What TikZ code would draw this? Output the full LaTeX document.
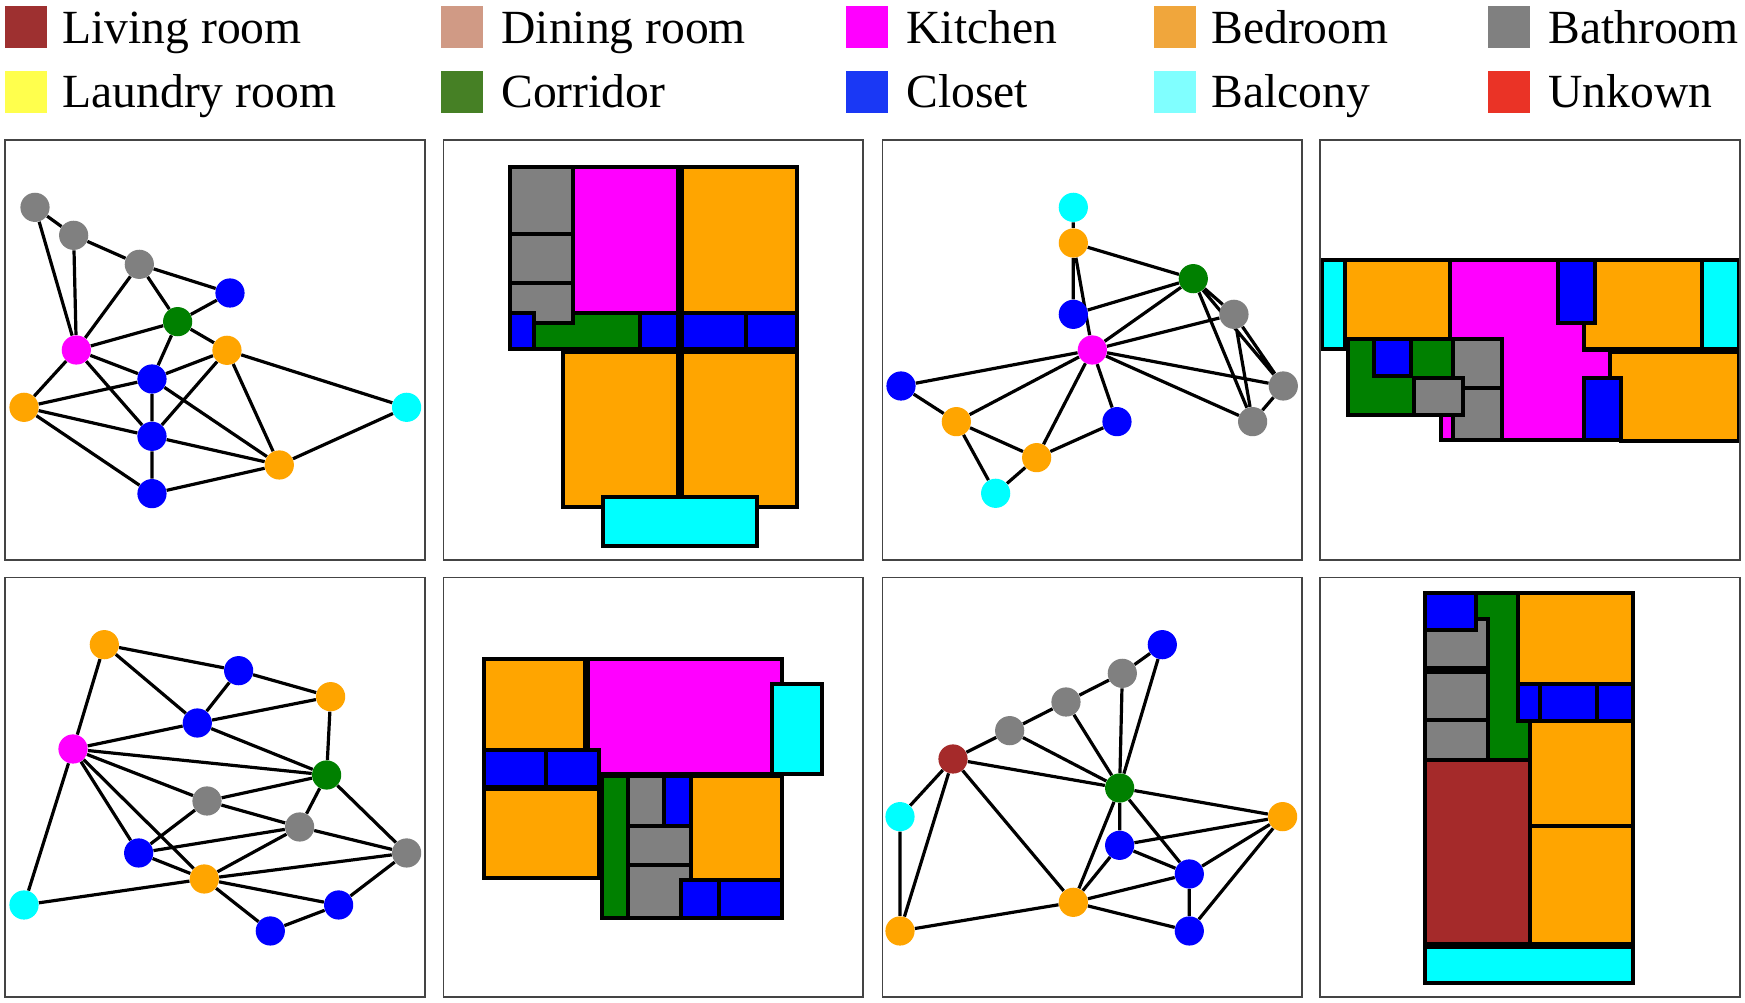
\documentclass[tikz,border=0pt]{standalone}
\usepackage{fontspec}
\setmainfont{Liberation Serif}
\usetikzlibrary{backgrounds}
\definecolor{liv}{HTML}{A52A2A}
\definecolor{kit}{HTML}{FF00FF}
\definecolor{bed}{HTML}{FFA500}
\definecolor{bath}{HTML}{808080}
\definecolor{cor}{HTML}{008000}
\definecolor{clo}{HTML}{0000FF}
\definecolor{bal}{HTML}{00FFFF}
\definecolor{frameline}{HTML}{444444}
\tikzset{
  dot/.style={circle,draw=none,inner sep=0pt,minimum size=14.6pt},
  edge/.style={black,line width=1.6pt},
  room/.style={draw=black,line width=2pt},
  panel/.style={draw=frameline,line width=0.8pt},
  swatch/.style={rectangle,draw=none,inner sep=0pt,minimum width=21pt,minimum height=21.4pt},
  legendtext/.style={anchor=base west,inner sep=0pt,font=\fontsize{23.8}{28}\selectfont}
}
\begin{document}
\begin{tikzpicture}[x=0.5pt,y=-0.5pt]
    \begin{scope}[on background layer]
    \fill[white] (0,0) rectangle (1745,1002);
    \end{scope}
    \useasboundingbox (0,0) rectangle (1745,1002);
    % legend
    \node[swatch,fill={rgb,255:red,158;green,48;blue,48}] at (25.5,27) (s1) {};
    \node[swatch,fill={rgb,255:red,208;green,154;blue,133}] at (462,27) (s2) {};
    \node[swatch,fill=kit] at (867,27) (s3) {};
    \node[swatch,fill={rgb,255:red,240;green,166;blue,60}] at (1175,27) (s4) {};
    \node[swatch,fill=bath] at (1509,27) (s5) {};
    \node[swatch,fill={rgb,255:red,255;green,255;blue,77}] at (25.5,92) (s6) {};
    \node[swatch,fill={rgb,255:red,70;green,128;blue,37}] at (462,92) (s7) {};
    \node[swatch,fill={rgb,255:red,26;green,56;blue,245}] at (867,92) (s8) {};
    \node[swatch,fill={rgb,255:red,128;green,255;blue,255}] at (1175,92) (s9) {};
    \node[swatch,fill={rgb,255:red,234;green,51;blue,38}] at (1509,92) (s10) {};
    \node[legendtext] at (62,43.5) (t1) {Living room};
    \node[legendtext] at (501,43.5) (t2) {Dining room};
    \node[legendtext] at (906,43.5) (t3) {Kitchen};
    \node[legendtext] at (1211,43.5) (t4) {Bedroom};
    \node[legendtext] at (1548,43.5) (t5) {Bathroom};
    \node[legendtext] at (62,107) (t6) {Laundry room};
    \node[legendtext] at (501,107) (t7) {Corridor};
    \node[legendtext] at (906,107) (t8) {Closet};
    \node[legendtext] at (1211,107) (t9) {Balcony};
    \node[legendtext] at (1548,107) (t10) {Unkown};
    % first graph
    \begin{scope}[shift={(0,130)},scale=0.3333]
    \node[dot,fill=bath] at (105,232) (a1) {};
    \node[dot,fill=bath] at (221,316) (a2) {};
    \node[dot,fill=bath] at (418,403) (a3) {};
    \node[dot,fill=clo] at (690,489) (a4) {};
    \node[dot,fill=cor] at (533,575) (a5) {};
    \node[dot,fill=kit] at (229,660) (a6) {};
    \node[dot,fill=bed] at (681,661) (a7) {};
    \node[dot,fill=clo] at (456,747) (a8) {};
    \node[dot,fill=bed] at (72,832) (a9) {};
    \node[dot,fill=bal] at (1220,832) (a10) {};
    \node[dot,fill=clo] at (456,919) (a11) {};
    \node[dot,fill=bed] at (838,1005) (a12) {};
    \node[dot,fill=clo] at (456,1091) (a13) {};
    \begin{scope}[on background layer]
    \draw[edge] (a1) -- (a2) -- (a3) -- (a4) -- (a5) -- (a3) -- (a6) -- (a1);
    \draw[edge] (a2) -- (a6) -- (a5) -- (a7) -- (a8) -- (a5);
    \draw[edge] (a6) -- (a8) -- (a11) -- (a6) -- (a9) -- (a8) -- (a12);
    \draw[edge] (a7) -- (a11) -- (a9) -- (a13) -- (a11) -- (a12) -- (a13);
    \draw[edge] (a7) -- (a12) -- (a10) -- (a7);
    \end{scope}
    \end{scope}
    % first plan
    \begin{scope}[shift={(440,130)},scale=0.3333]
    \draw[room,fill=bath] (210,112) rectangle (400,311);
    \draw[room,fill=bath] (210,311) rectangle (400,459);
    \draw[room,fill=bath] (210,459) -- (400,459) -- (400,578) -- (283,578) -- (283,548) -- (210,548) -- cycle;
    \draw[room,fill=kit] (400,112) rectangle (715,548);
    \draw[room,fill=bed] (725,112) rectangle (1070,548);
    \draw[room,fill=cor] (283,578) -- (400,578) -- (400,548) -- (600,548) -- (600,658) -- (283,658) -- cycle;
    \draw[room,fill=clo] (210,548) rectangle (283,658);
    \draw[room,fill=clo] (600,548) rectangle (715,658);
    \draw[room,fill=clo] (725,548) rectangle (918,658);
    \draw[room,fill=clo] (918,548) rectangle (1070,658);
    \draw[room,fill=bed] (370,665) rectangle (715,1130);
    \draw[room,fill=bed] (725,665) rectangle (1070,1130);
    \draw[room,fill=bal] (489,1100) rectangle (952,1247);
    \end{scope}
    % second graph
    \begin{scope}[shift={(880,130)},scale=0.3333]
    \node[dot,fill=bal] at (580,232) (c1) {};
    \node[dot,fill=bed] at (580,339) (c2) {};
    \node[dot,fill=cor] at (940,446) (c3) {};
    \node[dot,fill=clo] at (580,553) (c4) {};
    \node[dot,fill=bath] at (1062,553) (c5) {};
    \node[dot,fill=kit] at (637,660) (c6) {};
    \node[dot,fill=clo] at (63,768) (c7) {};
    \node[dot,fill=bath] at (1210,768) (c8) {};
    \node[dot,fill=bed] at (229,875) (c9) {};
    \node[dot,fill=clo] at (711,875) (c10) {};
    \node[dot,fill=bath] at (1118,875) (c11) {};
    \node[dot,fill=bed] at (470,983) (c12) {};
    \node[dot,fill=bal] at (347,1090) (c13) {};
    \begin{scope}[on background layer]
    \draw[edge] (c1) -- (c2) -- (c4) -- (c3) -- (c2) -- (c6) -- (c3);
    \draw[edge] (c6) -- (c5) -- (c3) -- (c11) -- (c5) -- (c8) -- (c3);
    \draw[edge] (c8) -- (c11) -- (c6) -- (c8);
    \draw[edge] (c6) -- (c7) -- (c9) -- (c6) -- (c12) -- (c10) -- (c6);
    \draw[edge] (c9) -- (c12) -- (c13) -- (c9);
    \end{scope}
    \end{scope}
    % second plan
    \begin{scope}[shift={(1305,130)},scale=0.3333]
    \draw[room,fill=bal] (50,391) rectangle (119,657);
    \draw[room,fill=bed] (119,391) rectangle (435,627);
    \draw[room,fill=kit] (435,391) -- (760,391) -- (760,578) -- (836,578) -- (836,660) -- (916,660) -- (916,745) -- (836,745) -- (836,930) -- (592,930) -- (592,627) -- (435,627) -- cycle;
    \draw[room,fill=kit] (408,856) rectangle (444,930);
    \draw[room,fill=clo] (760,391) rectangle (870,578);
    \draw[room,fill=bed] (870,391) -- (1190,391) -- (1190,657) -- (836,657) -- (836,578) -- (870,578) -- cycle;
    \draw[room,fill=bal] (1190,391) rectangle (1302,657);
    \draw[room,fill=bed] (916,665) -- (1302,665) -- (1302,932) -- (948,932) -- (948,745) -- (916,745) -- cycle;
    \draw[room,fill=clo] (836,745) rectangle (948,930);
    \draw[room,fill=cor] (128,627) -- (444,627) -- (444,745) -- (326,745) -- (326,856) -- (128,856) -- cycle;
    \draw[room,fill=clo] (208,627) rectangle (318,738);
    \draw[room,fill=bath] (444,627) -- (592,627) -- (592,775) -- (474,775) -- (474,745) -- (444,745) -- cycle;
    \draw[room,fill=bath] (474,775) -- (592,775) -- (592,930) -- (444,930) -- (444,856) -- (474,856) -- cycle;
    \draw[room,fill=bath] (326,745) rectangle (474,856);
    \end{scope}
    % third graph
    \begin{scope}[shift={(0,565)},scale=0.3333]
    \node[dot,fill=bed] at (313,239) (e1) {};
    \node[dot,fill=clo] at (716,317) (e2) {};
    \node[dot,fill=bed] at (992,395) (e3) {};
    \node[dot,fill=clo] at (592,474) (e4) {};
    \node[dot,fill=kit] at (219,552) (e5) {};
    \node[dot,fill=cor] at (980,630) (e6) {};
    \node[dot,fill=bath] at (621,708) (e7) {};
    \node[dot,fill=bath] at (899,786) (e8) {};
    \node[dot,fill=clo] at (416,864) (e9) {};
    \node[dot,fill=bath] at (1220,864) (e10) {};
    \node[dot,fill=bed] at (613,942) (e11) {};
    \node[dot,fill=bal] at (72,1020) (e12) {};
    \node[dot,fill=clo] at (1016,1020) (e13) {};
    \node[dot,fill=clo] at (811,1098) (e14) {};
    \begin{scope}[on background layer]
    \draw[edge] (e1) -- (e2) -- (e3) -- (e4) -- (e2);
    \draw[edge] (e1) -- (e4) -- (e5) -- (e1);
    \draw[edge] (e3) -- (e6) -- (e4);
    \draw[edge] (e5) -- (e6) -- (e7) -- (e5) -- (e9) -- (e7) -- (e8) -- (e6) -- (e10) -- (e8);
    \draw[edge] (e5) -- (e11) -- (e9) -- (e8) -- (e11) -- (e10) -- (e13) -- (e14) -- (e11) -- (e13);
    \draw[edge] (e5) -- (e12) -- (e11);
    \end{scope}
    \end{scope}
    % third plan
    \begin{scope}[shift={(440,565)},scale=0.3333]
    \draw[room,fill=bed] (132,281) rectangle (435,556);
    \draw[room,fill=kit] (445,281) -- (1027,281) -- (1027,357) -- (997,357) -- (997,628) -- (478,628) -- (478,556) -- (445,556) -- cycle;
    \draw[room,fill=bal] (997,357) rectangle (1146,628);
    \draw[room,fill=clo] (132,556) rectangle (318,665);
    \draw[room,fill=clo] (318,556) rectangle (478,665);
    \draw[room,fill=bed] (132,673) rectangle (478,940);
    \draw[room,fill=cor] (487,634) rectangle (563,1058);
    \draw[room,fill=bath] (563,634) rectangle (671,782);
    \draw[room,fill=clo] (671,634) rectangle (752,782);
    \draw[room,fill=bath] (563,782) rectangle (752,900);
    \draw[room,fill=bath] (563,900) -- (752,900) -- (752,945) -- (723,945) -- (723,1058) -- (563,1058) -- cycle;
    \draw[room,fill=bed] (752,634) rectangle (1027,945);
    \draw[room,fill=clo] (723,945) rectangle (837,1058);
    \draw[room,fill=clo] (837,945) rectangle (1027,1058);
    \end{scope}
    % fourth graph
    \begin{scope}[shift={(880,565)},scale=0.3333]
    \node[dot,fill=clo] at (847,239) (g1) {};
    \node[dot,fill=bath] at (727,325) (g2) {};
    \node[dot,fill=bath] at (558,411) (g3) {};
    \node[dot,fill=bath] at (389,497) (g4) {};
    \node[dot,fill=liv] at (219,582) (g5) {};
    \node[dot,fill=cor] at (719,669) (g6) {};
    \node[dot,fill=bal] at (60,755) (g7) {};
    \node[dot,fill=bed] at (1208,755) (g8) {};
    \node[dot,fill=clo] at (719,841) (g9) {};
    \node[dot,fill=clo] at (928,927) (g10) {};
    \node[dot,fill=bed] at (580,1012) (g11) {};
    \node[dot,fill=bed] at (60,1098) (g12) {};
    \node[dot,fill=clo] at (928,1098) (g13) {};
    \begin{scope}[on background layer]
    \draw[edge] (g1) -- (g2) -- (g3) -- (g4) -- (g5) -- (g6) -- (g1);
    \draw[edge] (g2) -- (g6) -- (g3);
    \draw[edge] (g4) -- (g6) -- (g8) -- (g9) -- (g6) -- (g10) -- (g8) -- (g13);
    \draw[edge] (g5) -- (g7) -- (g12) -- (g5) -- (g11) -- (g6);
    \draw[edge] (g9) -- (g10) -- (g11) -- (g9);
    \draw[edge] (g12) -- (g11) -- (g13) -- (g10);
    \end{scope}
    \end{scope}
    % fourth plan
    \begin{scope}[shift={(1305,565)},scale=0.3333]
    \draw[room,fill=clo] (360,84) rectangle (512,194);
    \draw[room,fill=bath] (360,194) -- (512,194) -- (512,163) -- (549,163) -- (549,310) -- (360,310) -- cycle;
    \draw[room,fill=bath] (360,320) rectangle (549,466);
    \draw[room,fill=bath] (360,466) rectangle (549,585);
    \draw[room,fill=cor] (512,84) -- (638,84) -- (638,467) -- (675,467) -- (675,585) -- (549,585) -- (549,163) -- (512,163) -- cycle;
    \draw[room,fill=bed] (638,84) rectangle (985,357);
    \draw[room,fill=clo] (638,357) rectangle (704,467);
    \draw[room,fill=clo] (704,357) rectangle (875,467);
    \draw[room,fill=clo] (875,357) rectangle (985,467);
    \draw[room,fill=bed] (675,467) rectangle (985,782);
    \draw[room,fill=bed] (675,782) rectangle (985,1137);
    \draw[room,fill=liv] (360,585) rectangle (675,1137);
    \draw[room,fill=bal] (360,1145) rectangle (985,1255);
    \end{scope}
    % frames
    \draw[panel] (5,140) rectangle (425,560);
    \draw[panel] (443.3,140) rectangle (863,560);
    \draw[panel] (882.3,140) rectangle (1302,560);
    \draw[panel] (1320,140) rectangle (1740,560);
    \draw[panel] (5,577.5) rectangle (425,997);
    \draw[panel] (443.3,577.5) rectangle (863,997);
    \draw[panel] (882.3,577.5) rectangle (1302,997);
    \draw[panel] (1320,577.5) rectangle (1740,997);
\end{tikzpicture}
\end{document}
